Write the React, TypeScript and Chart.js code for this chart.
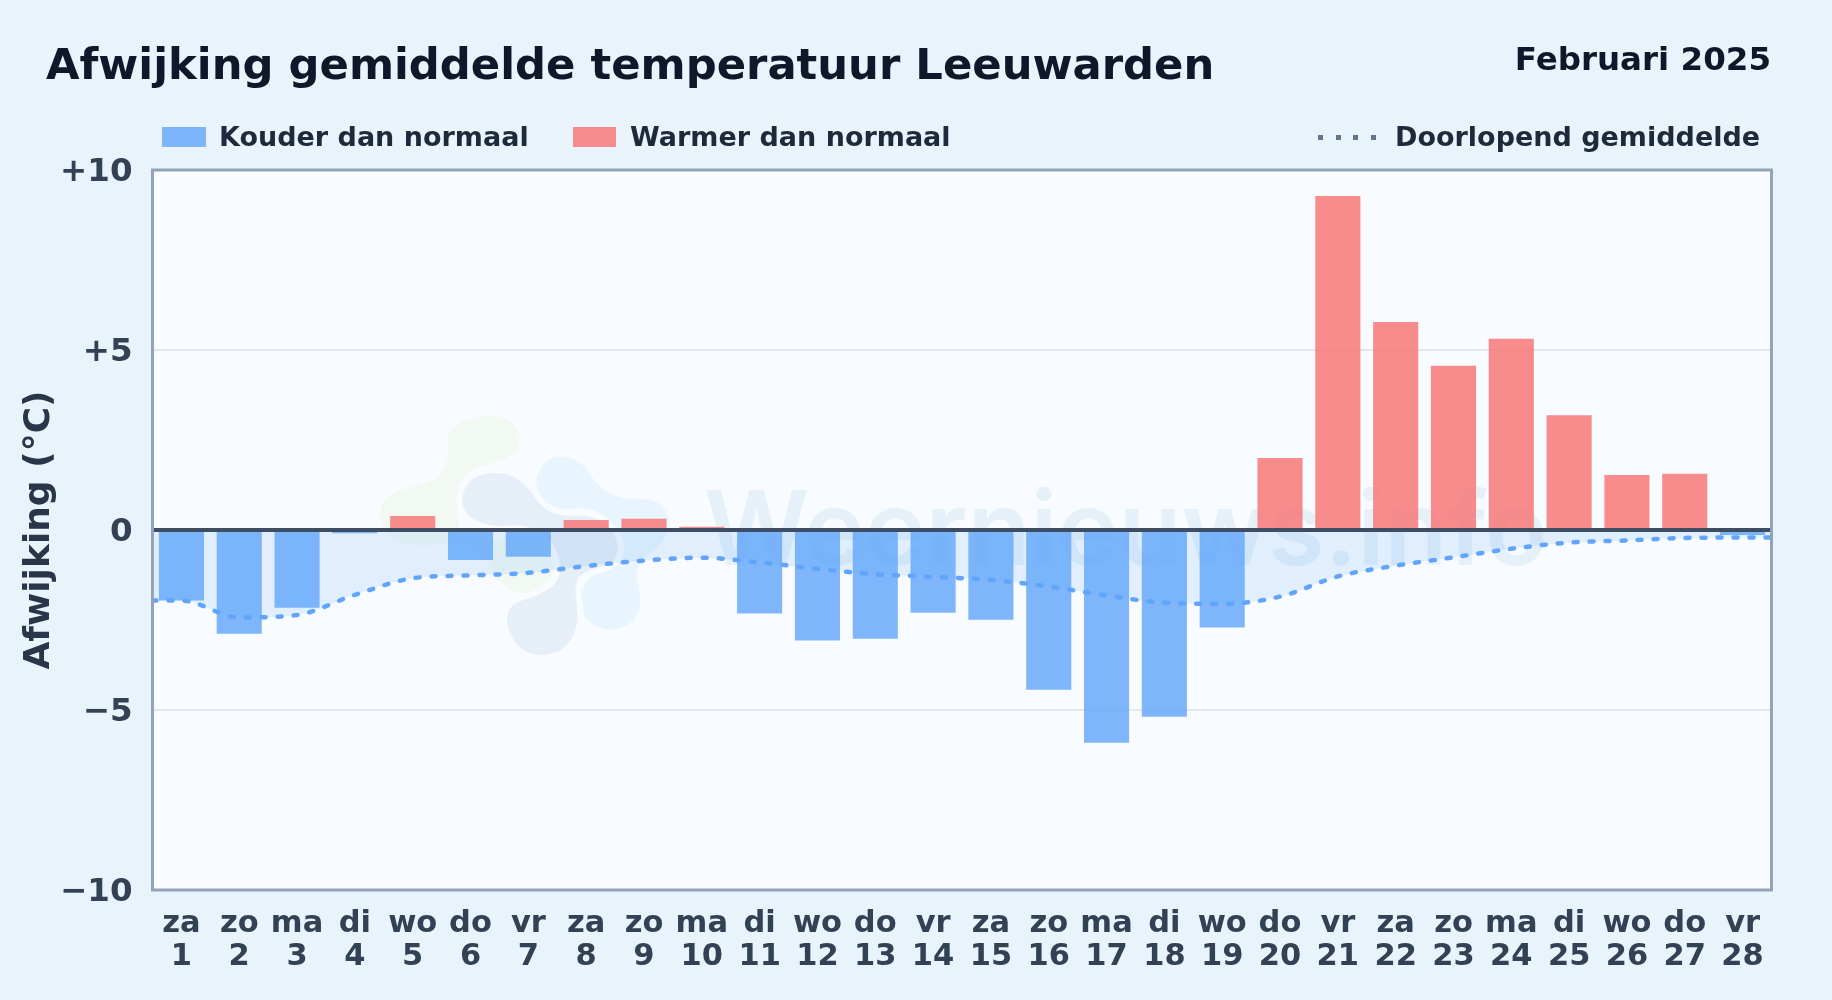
import React, { useEffect, useRef } from "react";
import { Chart, registerables } from "chart.js";

Chart.register(...registerables);

const weekdays = ["za","zo","ma","di","wo","do","vr","za","zo","ma","di","wo","do","vr","za","zo","ma","di","wo","do","vr","za","zo","ma","di","wo","do","vr"];
const days = ["1","2","3","4","5","6","7","8","9","10","11","12","13","14","15","16","17","18","19","20","21","22","23","24","25","26","27","28"];
const deviations = [-1.96,-2.88,-2.16,-0.09,0.39,-0.83,-0.74,0.28,0.31,0.09,-2.32,-3.07,-3.02,-2.30,-2.49,-4.44,-5.91,-5.19,-2.71,2.0,9.28,5.78,4.56,5.31,3.19,1.53,1.56,-0.14];
const runningMean = [-1.96,-2.43,-2.36,-1.80,-1.34,-1.26,-1.19,-1.00,-0.85,-0.77,-0.90,-1.08,-1.23,-1.30,-1.39,-1.57,-1.82,-2.02,-2.05,-1.85,-1.29,-0.99,-0.76,-0.52,-0.35,-0.29,-0.22,-0.21];
const yTicks = [-10,-5,0,5,10];

const FONT = "'DejaVu Sans', sans-serif";
const PAGE_BG = "#e8f3fc";
const PLOT_BG = "#f8fbff";

const greenBlob = [[370,35],[480,70],[478,170],[330,205],[285,270],[300,420],[380,470],[410,540],[470,585],[560,570],[590,480],[540,400],[230,440],[100,430],[50,340],[90,275],[230,245],[270,180],[255,90]];
const darkBlob = [[300,290],[340,225],[440,215],[505,260],[545,325],[610,350],[710,345],[780,420],[765,490],[680,510],[640,545],[660,680],[600,765],[490,765],[435,680],[450,610],[530,590],[600,545],[600,470],[560,400],[480,372],[400,382],[320,350]];
const lightBlob = [[525,230],[570,165],[660,175],[715,265],[790,300],[890,295],[940,365],[900,440],[820,495],[850,625],[790,695],[690,680],[650,600],[690,520],[785,490],[795,430],[745,350],[680,322],[590,330],[535,290]];

function blob(ctx: CanvasRenderingContext2D, pts: number[][]) {
  const P = pts.map(([x, y]) => [360 + x / 3, 400 + y / 3]);
  const n = P.length;
  ctx.beginPath();
  const m0 = [(P[n - 1][0] + P[0][0]) / 2, (P[n - 1][1] + P[0][1]) / 2];
  ctx.moveTo(m0[0], m0[1]);
  for (let i = 0; i < n; i++) {
    const a = P[i], b = P[(i + 1) % n];
    ctx.quadraticCurveTo(a[0], a[1], (a[0] + b[0]) / 2, (a[1] + b[1]) / 2);
  }
  ctx.closePath();
}

const backdrop = {
  id: "backdrop",
  beforeDraw(chart: any) {
    const { ctx, chartArea: a } = chart;
    ctx.save();
    ctx.fillStyle = PLOT_BG;
    ctx.fillRect(a.left, a.top, a.right - a.left, a.bottom - a.top);
    ctx.fillStyle = "#f2f9f3";
    blob(ctx, greenBlob); ctx.fill();
    for (const [pts, col] of [[lightBlob, "#e8f5fe"], [darkBlob, "#e6eff7"]] as any) {
      blob(ctx, pts);
      ctx.strokeStyle = PLOT_BG; ctx.lineWidth = 12; ctx.lineJoin = "round"; ctx.stroke();
      ctx.fillStyle = col; ctx.fill();
    }
    ctx.font = "600 103px 'Inter', sans-serif";
    ctx.fillStyle = "#e6f0f8";
    ctx.textAlign = "left"; ctx.textBaseline = "alphabetic";
    ctx.fillText("Weernieuws.info", 704, 565);
    ctx.restore();
  },
};

const frame = {
  id: "frame",
  afterDatasetsDraw(chart: any) {
    const { ctx, chartArea: a, scales } = chart;
    const y0 = scales.y.getPixelForValue(0);
    ctx.save();
    ctx.strokeStyle = "#3f4d63"; ctx.lineWidth = 4;
    ctx.beginPath(); ctx.moveTo(a.left, y0); ctx.lineTo(a.right, y0); ctx.stroke();
    ctx.strokeStyle = "#94a3b8"; ctx.lineWidth = 3;
    ctx.strokeRect(a.left, a.top, a.right - a.left, a.bottom - a.top);
    ctx.restore();
  },
};

const text = (left: number, baseline: number, size: number, color: string, right?: number): React.CSSProperties => ({
  position: "absolute",
  ...(right !== undefined ? { right } : { left }),
  top: baseline - 0.846 * size,
  fontFamily: FONT, fontWeight: 700, fontSize: size, lineHeight: 1, color, whiteSpace: "nowrap",
});
const box = (left: number, width: number, color: string): React.CSSProperties => ({
  position: "absolute", left, top: 127, width, height: 20, background: color,
});

export default function App() {
  const ref = useRef<HTMLCanvasElement>(null);
  useEffect(() => {
    const labels = weekdays.map((w, i) => [w, days[i]]);
    const linePoints = [
      { x: 0.5, y: runningMean[0] },
      ...runningMean.map((y, i) => ({ x: i + 1, y })),
      { x: 28.5, y: runningMean[27] },
    ];
    const chart = new Chart(ref.current!, {
      type: "bar",
      data: {
        labels,
        datasets: [
          {
            type: "line", label: "Doorlopend gemiddelde", data: linePoints as any, xAxisID: "xLine", order: 1,
            borderColor: "#60a5fa", borderWidth: 4.5, borderDash: [4, 12], borderCapStyle: "round",
            pointRadius: 0, cubicInterpolationMode: "monotone",
            fill: { value: 0 }, backgroundColor: "rgba(96,165,250,0.15)",
          },
          {
            type: "bar", label: "Afwijking", data: deviations, xAxisID: "x", order: 2, grouped: false,
            backgroundColor: deviations.map((v) => (v < 0 ? "rgba(96,165,250,0.8)" : "rgba(248,113,113,0.8)")),
            barPercentage: 0.78, categoryPercentage: 1,
          },
        ],
      } as any,
      options: {
        responsive: false, animation: false,
        layout: { padding: { left: 0, right: 60.5, top: 170, bottom: 0 } },
        plugins: { legend: { display: false }, tooltip: { enabled: false }, filler: { drawTime: "beforeDatasetsDraw" } as any },
        scales: {
          x: {
            type: "category", offset: true,
            grid: { display: false }, border: { display: false },
            ticks: {
              autoSkip: false, maxRotation: 0, minRotation: 0, padding: 9, color: "#334155",
              font: { family: FONT, weight: "bold", size: 30.5, lineHeight: 1.09 },
            },
            afterFit: (s: any) => { s.height = 110; },
          },
          xLine: { type: "linear", display: false, offset: false, min: 0.5, max: 28.5 },
          y: {
            min: -10, max: 10,
            afterBuildTicks: (s: any) => { s.ticks = yTicks.map((value) => ({ value })); },
            grid: { color: "#e2e8ec", lineWidth: 2, drawTicks: false }, border: { display: false },
            ticks: {
              padding: 20, color: "#334155", labelOffset: 3,
              font: { family: FONT, weight: "bold", size: 32.5 },
              callback: (v: any) => (v > 0 ? `+${v}` : v < 0 ? `\u2212${-v}` : "0"),
            },
            title: {
              display: true, text: "Afwijking (°C)", color: "#293548", padding: { top: 18, bottom: 0 },
              font: { family: FONT, weight: "bold", size: 36 },
            },
            afterFit: (s: any) => { s.width = 152.5; },
          },
        },
      },
      plugins: [backdrop, frame],
    } as any);
    return () => chart.destroy();
  }, []);

  return (
    <div style={{ position: "fixed", inset: 0, background: PAGE_BG, overflow: "hidden" }}>
      <canvas ref={ref} width={1832} height={1000} style={{ position: "absolute", left: 0, top: 0, width: 1832, height: 1000 }} />
      <div style={text(46, 79.5, 43.3, "#0f172a")}>Afwijking gemiddelde temperatuur Leeuwarden</div>
      <div style={text(0, 70, 32.5, "#0f172a", 1832 - 1771)}>Februari 2025</div>
      <div style={box(162, 44, "rgba(96,165,250,0.8)")} />
      <div style={text(219, 146, 27, "#1e293b")}>Kouder dan normaal</div>
      <div style={box(573, 43, "rgba(248,113,113,0.8)")} />
      <div style={text(630, 146, 27, "#1e293b")}>Warmer dan normaal</div>
      {[0, 1, 2, 3].map((i) => (
        <div key={i} style={{ position: "absolute", left: 1318 + i * 17.5, top: 135, width: 5, height: 5, background: "#64748b" }} />
      ))}
      <div style={text(1395, 146, 27, "#1e293b")}>Doorlopend gemiddelde</div>
    </div>
  );
}
